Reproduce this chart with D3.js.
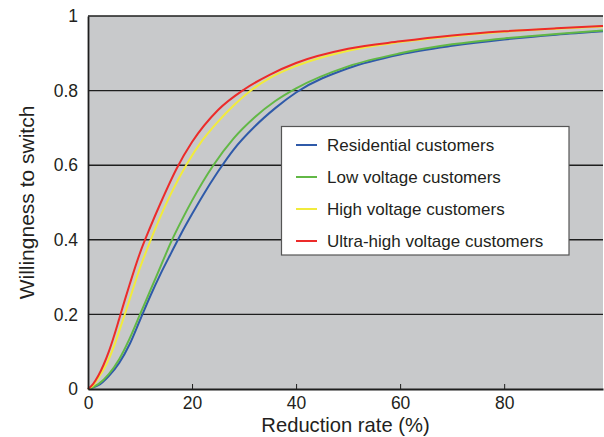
<!DOCTYPE html>
<html>
<head>
<meta charset="utf-8">
<script src="https://cdn.jsdelivr.net/npm/d3@7"></script>
<style>
  html, body { margin: 0; padding: 0; background: #fff; }
  svg { display: block; font-family: "Liberation Sans", Arial, sans-serif; }
</style>
</head>
<body>
<svg id="chart" width="604" height="437"></svg>
<script>
// ---- data ----
const seriesNames = ["Residential customers", "Low voltage customers", "High voltage customers", "Ultra-high voltage customers"];
const seriesColors = ["#2f5aa9", "#62b846", "#f1eb3c", "#ec2b2a"];

const residentialX = [0, 2, 4, 6, 8, 10, 12, 14, 16, 18, 20, 22, 25, 28, 32, 36, 40, 50, 60, 70, 80, 90, 99];
const residentialY = [0, 0.01, 0.035, 0.07, 0.12, 0.185, 0.25, 0.31, 0.365, 0.419, 0.469, 0.517, 0.583, 0.642, 0.703, 0.753, 0.795, 0.86, 0.897, 0.92, 0.937, 0.95, 0.959];

const lowVoltageX = [0, 2, 4, 6, 8, 10, 12, 14, 16, 18, 20, 24, 28, 32, 36, 40, 50, 60, 70, 80, 90, 99];
const lowVoltageY = [0, 0.013, 0.04, 0.08, 0.135, 0.2, 0.265, 0.33, 0.395, 0.452, 0.505, 0.598, 0.672, 0.728, 0.772, 0.806, 0.865, 0.9, 0.924, 0.94, 0.952, 0.961];

const highVoltageX = [0, 1, 2, 3, 4, 5, 6, 7, 8, 10, 12, 14, 16, 19, 22, 25, 28, 31, 35, 40, 50, 60, 70, 80, 90, 99];
const highVoltageY = [0, 0.01, 0.03, 0.052, 0.08, 0.115, 0.155, 0.197, 0.24, 0.325, 0.398, 0.465, 0.525, 0.603, 0.667, 0.717, 0.76, 0.797, 0.834, 0.866, 0.907, 0.93, 0.946, 0.958, 0.966, 0.972];

const ultraHighX = [0, 1, 2, 3, 4, 5, 6, 7, 8, 10, 12, 14, 17, 20, 25, 30, 35, 40, 50, 60, 70, 80, 90, 99];
const ultraHighY = [0, 0.014, 0.036, 0.065, 0.1, 0.142, 0.188, 0.235, 0.28, 0.365, 0.435, 0.5, 0.59, 0.662, 0.748, 0.803, 0.843, 0.874, 0.912, 0.932, 0.948, 0.959, 0.967, 0.973];

const xTicks = [0, 20, 40, 60, 80];
const yTicks = [0, 0.2, 0.4, 0.6, 0.8, 1];
const xTitle = "Reduction rate (%)";
const yTitle = "Willingness to switch";

const seriesX = [residentialX, lowVoltageX, highVoltageX, ultraHighX];
const seriesY = [residentialY, lowVoltageY, highVoltageY, ultraHighY];

// ---- layout ----
const W = 604, H = 437;
const m = { left: 88, top: 16, right: 1, bottom: 48 };
const svg = d3.select("#chart");

const x = d3.scaleLinear().domain([0, 99]).range([m.left, W - m.right]);
const y = d3.scaleLinear().domain([0, 1]).range([H - m.bottom, m.top]);

// plot background
svg.append("rect")
  .attr("x", x(0)).attr("y", y(1))
  .attr("width", x(99) - x(0)).attr("height", y(0) - y(1))
  .attr("fill", "#c8c9cb");

// horizontal gridlines
svg.append("g").selectAll("line")
  .data(yTicks.filter(d => d > 0))
  .join("line")
  .attr("x1", x(0)).attr("x2", x(99))
  .attr("y1", d => y(d)).attr("y2", d => y(d))
  .attr("stroke", "#1e1e1e").attr("stroke-width", 1.4);

// lines
const line = d3.line()
  .x(d => x(d[0])).y(d => y(d[1]))
  .curve(d3.curveMonotoneX);

seriesNames.forEach((name, i) => {
  const pts = seriesX[i].map((v, j) => [v, seriesY[i][j]]);
  svg.append("path")
    .datum(pts)
    .attr("d", line)
    .attr("fill", "none")
    .attr("stroke", seriesColors[i])
    .attr("stroke-width", 2);
});

// x axis
const xAxis = svg.append("g")
  .attr("transform", `translate(0,${y(0)})`)
  .call(d3.axisBottom(x).tickValues(xTicks).tickSizeInner(-5).tickSizeOuter(0).tickPadding(8).tickFormat(d3.format("d")));
xAxis.select(".domain").attr("stroke", "#1e1e1e").attr("stroke-width", 1.8);
xAxis.selectAll(".tick line").attr("stroke", "#1e1e1e").attr("stroke-width", 1);
xAxis.selectAll(".tick text").attr("font-size", 17.5).attr("fill", "#231f20")
  .attr("font-family", "'Liberation Sans', Arial, sans-serif");

// y axis
const yAxis = svg.append("g")
  .attr("transform", `translate(${x(0)},0)`)
  .call(d3.axisLeft(y).tickValues(yTicks).tickSize(0).tickPadding(10).tickFormat(d => d3.format("")(d)));
yAxis.select(".domain").attr("stroke", "#1e1e1e").attr("stroke-width", 1.8);
yAxis.selectAll(".tick text").attr("font-size", 17.5).attr("fill", "#231f20")
  .attr("font-family", "'Liberation Sans', Arial, sans-serif");

// axis titles
svg.append("text")
  .attr("x", (x(0) + x(99)) / 2).attr("y", 432)
  .attr("text-anchor", "middle").attr("font-size", 20.2).attr("fill", "#231f20")
  .text(xTitle);
svg.append("text")
  .attr("transform", `translate(34,${(y(0) + y(1)) / 2}) rotate(-90)`)
  .attr("text-anchor", "middle").attr("font-size", 21).attr("fill", "#231f20")
  .text(yTitle);

// legend
const lg = svg.append("g");
lg.append("rect")
  .attr("x", 281.5).attr("y", 126.5).attr("width", 287.5).attr("height", 128.5)
  .attr("fill", "#fff").attr("stroke", "#555").attr("stroke-width", 1.2);
seriesNames.forEach((name, i) => {
  const cy = 145 + i * 32;
  lg.append("line")
    .attr("x1", 296).attr("x2", 317).attr("y1", cy).attr("y2", cy)
    .attr("stroke", seriesColors[i]).attr("stroke-width", 2);
  lg.append("text")
    .attr("x", 327).attr("y", cy).attr("dy", "0.35em")
    .attr("font-size", 17).attr("fill", "#231f20")
    .text(name);
});
</script>
</body>
</html>
